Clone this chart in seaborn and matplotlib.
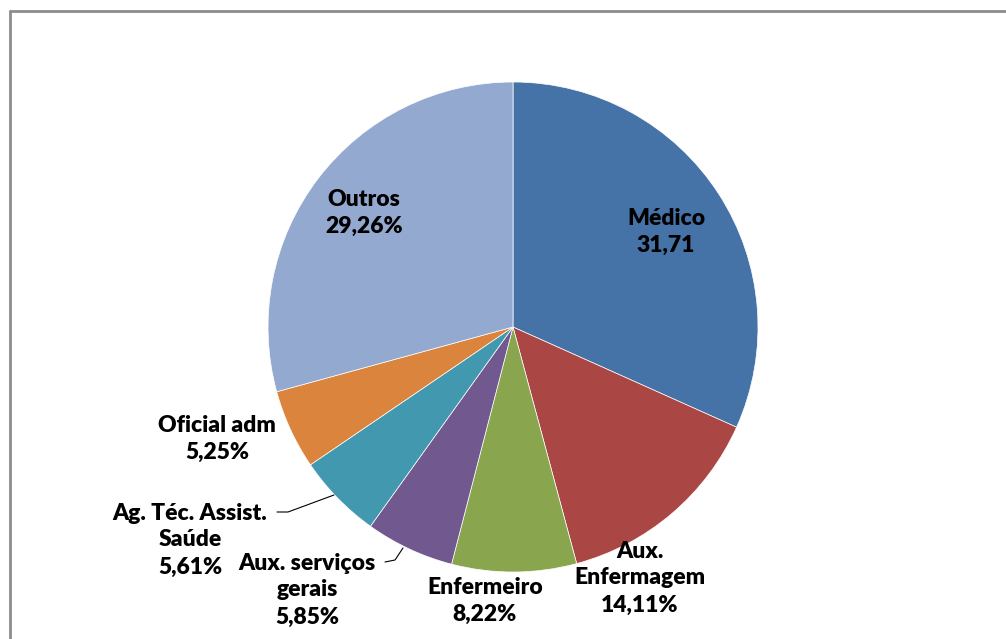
import matplotlib
matplotlib.use('Agg')
import matplotlib.pyplot as plt
import seaborn as sns
import numpy as np
from matplotlib.lines import Line2D

# Data
categories = ['Médico', 'Aux.\nEnfermagem', 'Enfermeiro', 'Aux. serviços\ngerais',
              'Ag. Téc. Assist.\nSaúde', 'Oficial adm', 'Outros']
values = [31.71, 14.11, 8.22, 5.85, 5.61, 5.25, 29.26]
value_labels = ['31,71', '14,11%', '8,22%', '5,85%', '5,61%', '5,25%', '29,26%']
colors = ['#4572A7', '#AA4643', '#89A54E', '#71588F', '#4198AF', '#DB843D', '#93A9CF']

sns.set_theme(style='white')
plt.rcParams['font.family'] = ['Lato', 'DejaVu Sans']

W, H = 1006, 639
fig = plt.figure(figsize=(W / 100, H / 100), dpi=100)
ax = fig.add_axes([0, 0, 1, 1])

cx, cy, R = 513, H - 327, 245
wedges, _ = ax.pie(values, colors=sns.color_palette(colors), startangle=90,
                   counterclock=False, center=(cx, cy), radius=R,
                   wedgeprops=dict(linewidth=0.5, edgecolor='white'))

# label centres in pixel coords (x, y from top)
label_pos = [(666, 232), (640, 578), (485, 601), (307, 590), (190, 540), (217, 439), (364, 213)]
for cat, lab, (lx, ly) in zip(categories, value_labels, label_pos):
    ax.text(lx, H - ly, cat + '\n' + lab, ha='center', va='center',
            fontsize=16.5, fontweight='heavy', color='black', linespacing=1.35)

# leader lines
ax.plot([385, 395, 403], [H - 562, H - 560, H - 548], color='black', lw=0.8)
ax.plot([277, 288, 334], [H - 512, H - 512, H - 495], color='black', lw=0.8)

ax.set_xlim(0, W)
ax.set_ylim(0, H)
ax.set_aspect('auto')
ax.axis('off')

# chart border (only left and top visible in crop)
fig.add_artist(Line2D([10 / W, 10 / W], [0, 1 - 11 / H], color='#8c8c8c', lw=2,
                      transform=fig.transFigure))
fig.add_artist(Line2D([10 / W, 1], [1 - 11 / H, 1 - 11 / H], color='#8c8c8c', lw=2,
                      transform=fig.transFigure))

fig.savefig('out.png', dpi=100)
